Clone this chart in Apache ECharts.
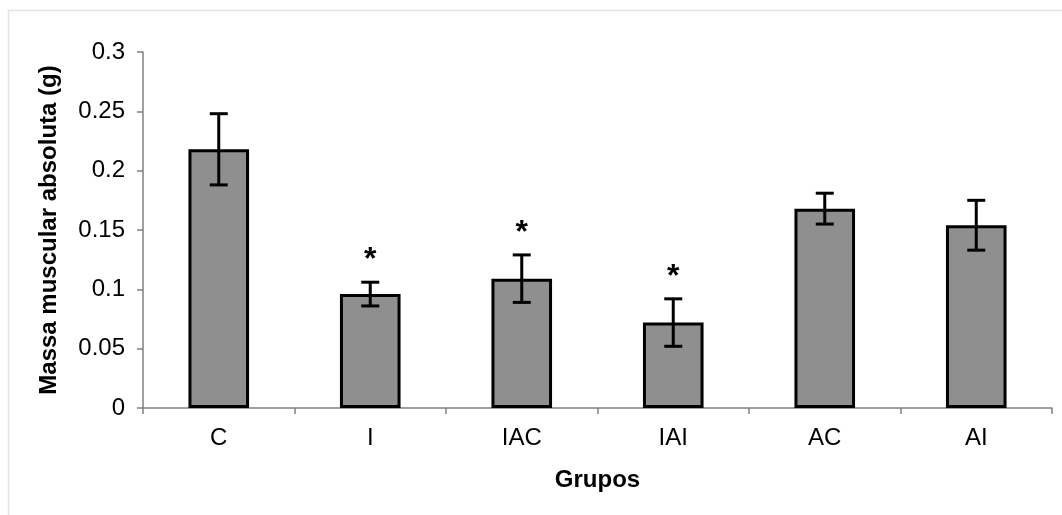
<!DOCTYPE html>
<html>
<head>
<meta charset="utf-8">
<script src="https://cdn.jsdelivr.net/npm/echarts@6/dist/echarts.min.js"></script>
<style>
  html, body { margin: 0; padding: 0; background: #fff; }
  #main { width: 1062px; height: 515px; }
</style>
</head>
<body>
<div id="main"></div>
<script>
// grupos e valores (g)
const categories = ['C', 'I', 'IAC', 'IAI', 'AC', 'AI'];
const means = [0.218, 0.096, 0.109, 0.072, 0.168, 0.154];
const errors = [0.030, 0.010, 0.020, 0.020, 0.013, 0.021];
const signif = [false, true, true, true, false, false];

var myChart = echarts.init(document.getElementById('main'));

const font = '"Liberation Sans", Arial, sans-serif';

var option = {
    animation: false,
    backgroundColor: '#fff',
    grid: { left: 143, right: 10, top: 52, bottom: 107, containLabel: false },
    graphic: [
        { type: 'line', shape: { x1: 8, y1: 10.5, x2: 1062, y2: 10.5 }, style: { stroke: '#e3e3e3', lineWidth: 1.5 } },
        { type: 'line', shape: { x1: 8.5, y1: 10, x2: 8.5, y2: 515 }, style: { stroke: '#e3e3e3', lineWidth: 1.5 } }
    ],
    xAxis: {
        type: 'category',
        data: categories,
        name: 'Grupos',
        nameLocation: 'middle',
        nameGap: 60,
        nameTextStyle: { fontFamily: font, fontSize: 24, fontWeight: 'bold', color: '#000' },
        axisLine: { lineStyle: { color: '#808080', width: 1.5 } },
        axisTick: { show: true, alignWithLabel: false, length: 6, lineStyle: { color: '#808080', width: 1.5 } },
        axisLabel: { fontFamily: font, fontSize: 24, color: '#000', margin: 18 }
    },
    yAxis: {
        type: 'value',
        min: 0,
        max: 0.3,
        interval: 0.05,
        name: 'Massa muscular absoluta (g)',
        nameLocation: 'middle',
        nameGap: 82,
        nameTextStyle: { fontFamily: font, fontSize: 24, fontWeight: 'bold', color: '#000' },
        axisLine: { show: true, lineStyle: { color: '#808080', width: 1.5 } },
        axisTick: { show: true, length: 6, lineStyle: { color: '#808080', width: 1.5 } },
        splitLine: { show: false },
        axisLabel: {
            fontFamily: font, fontSize: 24, color: '#000', margin: 18,
            formatter: v => String(parseFloat(v.toFixed(2)))
        }
    },
    series: [
        {
            type: 'bar',
            data: means,
            barWidth: '40%',
            itemStyle: { color: '#8f8f8f', borderColor: '#000', borderWidth: 3 }
        },
        {
            // barras de erro e asteriscos
            type: 'custom',
            data: means.map((m, i) => [i, m - errors[i], m + errors[i], signif[i] ? 1 : 0]),
            z: 10,
            renderItem: function (params, api) {
                const x = api.value(0);
                const lo = api.coord([x, api.value(1)]);
                const hi = api.coord([x, api.value(2)]);
                const hw = 9;
                const st = { stroke: '#000', lineWidth: 3 };
                const children = [
                    { type: 'line', shape: { x1: hi[0], y1: hi[1], x2: lo[0], y2: lo[1] }, style: st },
                    { type: 'line', shape: { x1: hi[0] - hw, y1: hi[1], x2: hi[0] + hw, y2: hi[1] }, style: st },
                    { type: 'line', shape: { x1: lo[0] - hw, y1: lo[1], x2: lo[0] + hw, y2: lo[1] }, style: st }
                ];
                if (api.value(3)) {
                    children.push({
                        type: 'text',
                        style: {
                            text: '*', x: hi[0], y: hi[1] - 6,
                            align: 'center', verticalAlign: 'bottom',
                            font: 'bold 32px ' + font, fill: '#000'
                        }
                    });
                }
                return { type: 'group', children: children };
            }
        }
    ]
};

myChart.setOption(option);
</script>
</body>
</html>
